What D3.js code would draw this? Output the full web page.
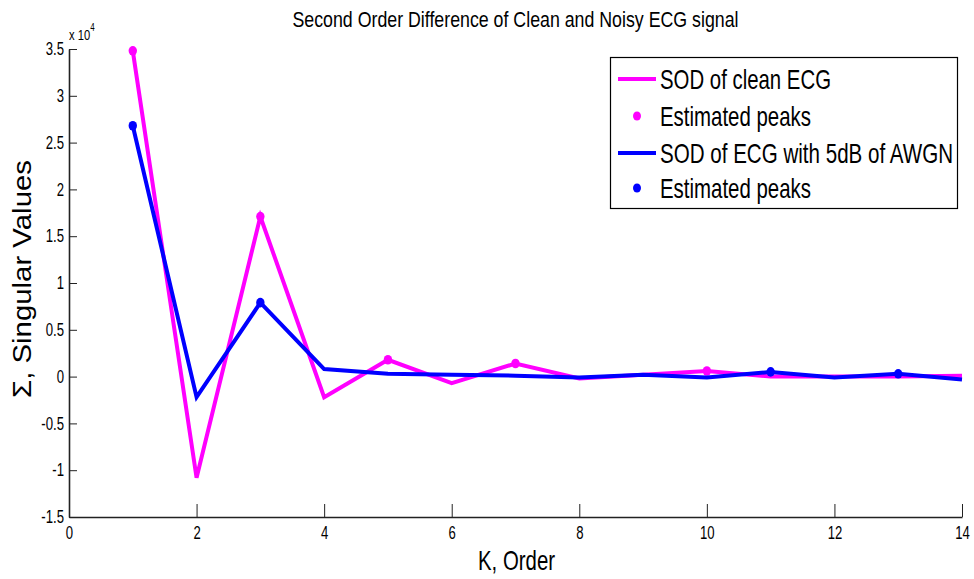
<!DOCTYPE html>
<html>
<head>
<meta charset="utf-8">
<script src="https://cdn.jsdelivr.net/npm/d3@7"></script>
<style>
  html, body { margin: 0; padding: 0; background: #fff; }
  svg text { font-family: "Liberation Sans", Arial, Helvetica, sans-serif; fill: #000; }
</style>
</head>
<body>
<svg id="chart" width="974" height="579"></svg>
<script>
// ---- data (values in units of 1e4) ----
const orderK = [1, 2, 3, 4, 5, 6, 7, 8, 9, 10, 11, 12, 13, 14];
const cleanSOD = [3.48, -1.08, 1.71, -0.22, 0.18, -0.07, 0.14, -0.02, 0.02, 0.06, 0.00, 0.00, 0.00, 0.01];
const noisySOD = [2.68, -0.22, 0.79, 0.08, 0.03, 0.02, 0.01, -0.01, 0.02, -0.01, 0.05, -0.01, 0.03, -0.03];
const cleanPeakK = [1, 3, 5, 7, 10];
const noisyPeakK = [1, 3, 11, 13];
const xTicks = [0, 2, 4, 6, 8, 10, 12, 14];
const yTicks = [-1.5, -1, -0.5, 0, 0.5, 1, 1.5, 2, 2.5, 3, 3.5];
const legendLabels = ["SOD of clean ECG", "Estimated peaks", "SOD of ECG with 5dB of AWGN", "Estimated peaks"];
const titleText = "Second Order Difference of Clean and Noisy ECG signal";
const xLabel = "K, Order";
const yLabel = "\u03A3, Singular Values";

(function () {
const MAGENTA = "#ff00ff", BLUE = "#0000ff";
const svg = d3.select("#chart");

const pL = 69, pR = 962, pT = 49, pB = 517;
const x = d3.scaleLinear().domain([0, 14]).range([pL, pR]);
const y = d3.scaleLinear().domain([-1.5, 3.5]).range([pB, pT]);

function squeeze(sel, factor) {
  sel.each(function () {
    const w = this.getComputedTextLength();
    this.setAttribute("textLength", (w * factor).toFixed(1));
    this.setAttribute("lengthAdjust", "spacingAndGlyphs");
  });
}
function fitWidth(sel, width) {
  sel.attr("textLength", width).attr("lengthAdjust", "spacingAndGlyphs");
}

// ---- axes ----
const xAxis = d3.axisBottom(x).tickValues(xTicks).tickSizeInner(-13).tickSizeOuter(0).tickPadding(9)
  .tickFormat(d => String(d));
const yAxis = d3.axisLeft(y).tickValues(yTicks).tickSizeInner(-8).tickSizeOuter(0).tickPadding(5)
  .tickFormat(d => (d < 0 ? "-" : "") + String(Math.abs(d)));

const gx = svg.append("g").attr("transform", `translate(0,${pB})`).call(xAxis);
const gy = svg.append("g").attr("transform", `translate(${pL},0)`).call(yAxis);
[gx, gy].forEach(g => {
  g.select(".domain").attr("stroke", "#222").attr("stroke-width", 1.6);
  g.selectAll(".tick line").attr("stroke", "#222").attr("stroke-width", 1);
  g.selectAll(".tick text").attr("font-family", "Liberation Sans, Arial, sans-serif")
    .attr("font-size", 18).attr("fill", "#000");
});
squeeze(gx.selectAll(".tick text"), 0.73);
squeeze(gy.selectAll(".tick text"), 0.73);

// exponent label
const expo = svg.append("text").attr("x", 69).attr("y", 40).attr("font-size", 14);
expo.append("tspan").text("x 10");
expo.append("tspan").attr("dy", -9).attr("font-size", 10).text("4");
squeeze(expo, 0.8);

// ---- lines ----
const line = d3.line().x(d => x(d[0])).y(d => y(d[1]));
const cleanPts = orderK.map((k, i) => [k, cleanSOD[i]]);
const noisyPts = orderK.map((k, i) => [k, noisySOD[i]]);

svg.append("path").datum(cleanPts).attr("d", line).attr("fill", "none")
  .attr("stroke", MAGENTA).attr("stroke-width", 4).attr("stroke-linejoin", "miter");
svg.append("g").selectAll("ellipse").data(cleanPeakK).join("ellipse")
  .attr("cx", k => x(k)).attr("cy", k => y(cleanSOD[orderK.indexOf(k)]))
  .attr("rx", 4.2).attr("ry", 4.8).attr("fill", MAGENTA);

svg.append("path").datum(noisyPts).attr("d", line).attr("fill", "none")
  .attr("stroke", BLUE).attr("stroke-width", 4).attr("stroke-linejoin", "miter");
svg.append("g").selectAll("ellipse").data(noisyPeakK).join("ellipse")
  .attr("cx", k => x(k)).attr("cy", k => y(noisySOD[orderK.indexOf(k)]))
  .attr("rx", 4.2).attr("ry", 4.8).attr("fill", BLUE);

// ---- title & labels ----
svg.append("text").attr("x", 515.5).attr("y", 27).attr("text-anchor", "middle")
  .attr("font-size", 22).text(titleText).call(fitWidth, 446);
svg.append("text").attr("x", 516.5).attr("y", 570).attr("text-anchor", "middle")
  .attr("font-size", 28).text(xLabel).call(fitWidth, 77);
svg.append("text").attr("transform", "translate(31,279) rotate(-90)").attr("text-anchor", "middle")
  .attr("font-size", 26).text(yLabel).call(fitWidth, 238);

// ---- legend ----
const lg = svg.append("g");
lg.append("rect").attr("x", 610.5).attr("y", 57.5).attr("width", 347).attr("height", 151)
  .attr("fill", "#fff").attr("stroke", "#000").attr("stroke-width", 1.2);
const rowsY = [79, 116, 153, 188];
const widths = [171, 151, 293, 151];
const kinds = [["line", MAGENTA], ["dot", MAGENTA], ["line", BLUE], ["dot", BLUE]];
legendLabels.forEach((lab, i) => {
  const [kind, col] = kinds[i];
  if (kind === "line") {
    lg.append("line").attr("x1", 618).attr("x2", 656).attr("y1", rowsY[i]).attr("y2", rowsY[i])
      .attr("stroke", col).attr("stroke-width", 4);
  } else {
    lg.append("ellipse").attr("cx", 637).attr("cy", rowsY[i]).attr("rx", 4).attr("ry", 4.6).attr("fill", col);
  }
  lg.append("text").attr("x", 660).attr("y", rowsY[i] + 10).attr("font-size", 28)
    .text(lab).call(fitWidth, widths[i]);
});
})();
</script>
</body>
</html>
